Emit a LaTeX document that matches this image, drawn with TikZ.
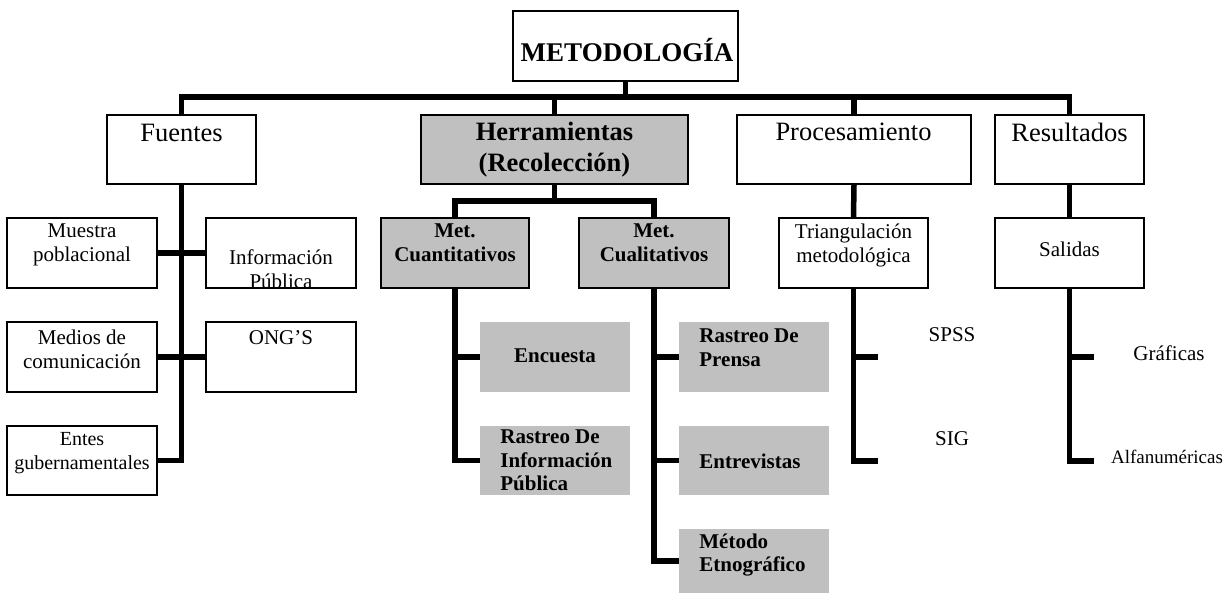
\documentclass[tikz,border=0pt]{standalone}
\usepackage{fontspec}
\setmainfont{Liberation Serif}
\usetikzlibrary{positioning, calc}
\definecolor{boxgray}{HTML}{C0C0C0}

\begin{document}
\begin{tikzpicture}[x=0.5pt, y=-0.5pt]
  \tikzstyle{box}=[draw, line width=0.85pt, inner sep=0pt, minimum height=35pt, minimum width=75pt]
  \tikzstyle{graybox}=[box, fill=boxgray]
  \tikzstyle{plainbox}=[inner sep=0pt, fill=boxgray, minimum height=35pt, minimum width=75pt]
  \tikzstyle{conn}=[line width=2.75pt]
  \tikzstyle{lbl}=[inner sep=0pt, anchor=base, align=center, font=\fontsize{10.5}{12}\selectfont]
  \tikzstyle{lblb}=[lbl, font=\fontsize{10.5}{12}\selectfont\bfseries]
  \tikzstyle{lblleft}=[lblb, anchor=base west, align=left]
  \tikzstyle{biglbl}=[lbl, font=\fontsize{13.25}{15.5}\selectfont]
  \useasboundingbox (0,0) rectangle (1231,593);

  % top
  \node[box, minimum width=112.5pt] (metod) at (625.5,46) {};
  \node[lbl, font=\fontsize{13.5}{16}\selectfont\bfseries] (metod_t) at (627,62) {METODOLOGÍA};

  % second row
  \node[box, minimum width=74.5pt, minimum height=34.5pt] (fuentes) at (181.5,149.5) {};
  \node[graybox, minimum width=133.5pt, minimum height=34.5pt] (herr) at (554.5,149.5) {};
  \node[box, minimum width=117pt, minimum height=34.5pt] (proc) at (854,149.5) {};
  \node[box, minimum width=74.5pt, minimum height=34.5pt] (result) at (1069.5,149.5) {};
  \node[biglbl] (fuentes_t) at (181.5,141.5) {Fuentes};
  \node[biglbl, font=\fontsize{13.25}{15.5}\selectfont\bfseries] (herr_t) at (554.5,172) {Herramientas\\(Recolección)};
  \node[biglbl] (proc_t) at (853.5,141) {Procesamiento};
  \node[biglbl] (result_t) at (1069.5,141.5) {Resultados};

  % Fuentes
  \node[box] (muestra) at (82,253) {};
  \node[box] (infopub) at (281,253) {};
  \node[box] (medios) at (82,357) {};
  \node[box] (ong) at (281,357) {};
  \node[box, minimum height=34.5pt] (entes) at (82,460.5) {};
  \node[lbl] (muestra_t) at (82,262) {Muestra\\poblacional};
  \node[lbl] (infopub_t) at (281,288) {Información\\Pública};
  \node[lbl] (medios_t) at (82,368) {Medios de\\comunicación};
  \node[lbl] (ong_t) at (281,344) {ONG’S};
  \node[lbl, font=\fontsize{10}{11.8}\selectfont] (entes_t) at (82,469) {Entes\\gubernamentales};

  % Herramientas
  \node[graybox, minimum width=74pt] (cuant) at (455,253) {};
  \node[graybox] (cual) at (654,253) {};
  \node[lblb] (cuant_t) at (455,261.5) {Met.\\Cuantitativos};
  \node[lblb] (cual_t) at (654,261.5) {Met.\\Cualitativos};
  \node[plainbox] (encuesta) at (555,357) {};
  \node[plainbox, minimum height=34.5pt] (rastinfo) at (555,460.5) {};
  \node[plainbox] (rastprensa) at (754,357) {};
  \node[plainbox, minimum height=34.5pt] (entrev) at (754,460.5) {};
  \node[plainbox, minimum height=32pt] (etno) at (754,561) {};
  \node[lblb] (encuesta_t) at (555,362) {Encuesta};
  \node[lblleft, font=\fontsize{10.5}{11.7}\selectfont\bfseries] (rastinfo_t) at (500,490.5) {Rastreo De\\Información\\Pública};
  \node[lblleft] (rastprensa_t) at (699,366) {Rastreo De\\Prensa};
  \node[lblleft] (entrev_t) at (699,468) {Entrevistas};
  \node[lblleft, font=\fontsize{10.5}{11.75}\selectfont\bfseries] (etno_t) at (699,571.5) {Método\\Etnográfico};

  % Procesamiento
  \node[box, minimum width=74.5pt] (triang) at (853.5,253) {};
  \node[lbl] (triang_t) at (853.5,263) {Triangulación\\metodológica};
  \coordinate (spss_end) at (878,357);
  \coordinate (sig_end) at (878,461);
  \node[lbl] (spss_t) at (952,341.5) {SPSS};
  \node[lbl] (sig_t) at (952,445) {SIG};

  % Resultados
  \node[box, minimum width=74.5pt] (salidas) at (1069.5,253) {};
  \node[lbl] (salidas_t) at (1069.5,256.5) {Salidas};
  \coordinate (graf_end) at (1094,357);
  \coordinate (alfa_end) at (1094,461);
  \node[lbl] (graf_t) at (1169,360) {Gráficas};
  \node[lbl, font=\fontsize{9.5}{11}\selectfont] (alfa_t) at (1167,463) {Alfanuméricas};

  % connectors
  \draw[conn] (metod.south) -- ++(0,17);
  \draw[conn] (fuentes.north) -- ++(0,-17) -| (result.north);
  \draw[conn] (herr.north) -- ++(0,-17);
  \draw[conn] (proc.north) -- ++(0,-17);

  \draw[conn] (fuentes.south) |- (entes.east);
  \draw[conn] (muestra.east) -- (infopub.west);
  \draw[conn] (medios.east) -- (ong.west);

  \draw[conn] (herr.south) -- ++(0,16) -| (cuant.north);
  \draw[conn] (herr.south) -- ++(0,16) -| (cual.north);
  \draw[conn] (cuant.south) |- (rastinfo.west);
  \draw[conn] (cuant.south |- encuesta.west) -- (encuesta.west);
  \draw[conn] (cual.south) |- (etno.west);
  \draw[conn] (cual.south |- rastprensa.west) -- (rastprensa.west);
  \draw[conn] (cual.south |- entrev.west) -- (entrev.west);

  \draw[conn] (proc.south) -- (triang.north);
  \draw[conn] (triang.south) |- (sig_end);
  \draw[conn] (triang.south |- spss_end) -- (spss_end);

  \draw[conn] (result.south) -- (salidas.north);
  \draw[conn] (salidas.south) |- (alfa_end);
  \draw[conn] (salidas.south |- graf_end) -- (graf_end);

\end{tikzpicture}
\end{document}
